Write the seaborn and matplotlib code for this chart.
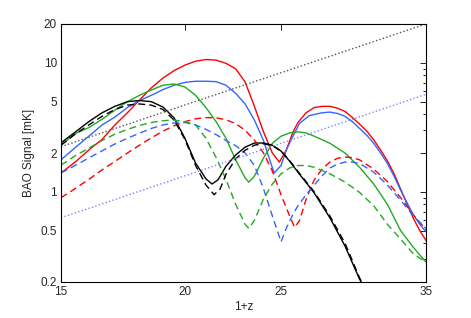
import numpy as np
import pandas as pd
import seaborn as sns
import matplotlib
matplotlib.use("Agg")
from matplotlib import pyplot as plt
from matplotlib.ticker import FixedLocator, LogLocator, NullFormatter, NullLocator

# 1+z sample points and BAO signal [mK]
red_z = [15, 15.5, 16, 16.5, 17, 17.5, 18, 18.5, 19, 19.5, 20, 20.5, 21, 21.5, 22, 22.5, 23, 23.5, 24, 24.5,
         24.9, 25.3, 25.7, 26, 26.5, 27, 27.5, 28, 28.5, 29, 29.5, 30, 30.5, 31, 31.5, 32, 32.5, 33, 33.5, 34, 34.5, 35]
red_solid = [1.40, 1.70, 2.11, 2.55, 3.3, 4.1, 5.15, 6.4, 7.6, 8.7, 9.6, 10.3, 10.6, 10.5, 9.9, 9.0, 7.1, 4.6, 2.92, 2.0,
             1.70, 2.1, 2.9, 3.45, 4.1, 4.5, 4.6, 4.6, 4.45, 4.2, 3.77, 3.35, 2.96, 2.53, 2.11, 1.74, 1.38, 1.05, 0.80, 0.62, 0.50, 0.42]

red_dash_z = [15, 15.5, 16, 16.5, 17, 17.5, 18, 18.5, 19, 19.5, 20, 20.5, 21, 21.5, 22, 22.5, 23, 23.5, 24, 24.5,
              25, 25.5, 25.8, 26.1, 26.5, 27, 27.5, 28, 28.5, 29, 29.5, 30, 31, 32, 33, 34, 35]
red_dash = [0.9, 1.06, 1.25, 1.48, 1.72, 2.0, 2.3, 2.62, 2.95, 3.25, 3.5, 3.68, 3.76, 3.75, 3.62, 3.38, 3.0, 2.52, 2.0, 1.45,
            0.95, 0.65, 0.53, 0.6, 0.88, 1.24, 1.5, 1.7, 1.82, 1.86, 1.84, 1.77, 1.5, 1.2, 0.9, 0.66, 0.51]

blue_z = [15, 15.5, 16, 16.5, 17, 17.5, 18, 18.5, 19, 19.5, 20, 20.5, 21, 21.5, 22, 22.5, 23, 23.5, 24, 24.3,
          24.6, 25, 25.3, 25.7, 26.1, 26.7, 27.5, 28, 28.5, 29, 29.5, 30, 30.5, 31, 31.5, 32, 32.5, 33, 33.5, 34, 34.5, 35]
blue_solid = [1.77, 2.2, 2.7, 3.3, 3.8, 4.5, 5.1, 5.6, 6.2, 6.7, 7.05, 7.2, 7.2, 7.15, 6.7, 5.8, 4.8, 3.6, 2.5, 1.86,
              1.4, 1.6, 2.1, 2.7, 3.4, 3.9, 4.1, 4.15, 4.05, 3.85, 3.5, 3.1, 2.75, 2.38, 2.0, 1.66, 1.32, 1.03, 0.82, 0.66, 0.56, 0.49]

blue_dash_z = [15, 15.5, 16, 16.5, 17, 17.5, 18, 18.5, 19, 19.5, 20, 20.5, 21, 21.5, 22, 22.5, 23, 23.5, 24, 24.5,
               25, 25.3, 25.7, 26, 26.5, 27, 27.5, 28, 28.5, 29, 29.5, 30, 31, 32, 33, 34, 35]
blue_dash = [1.4, 1.6, 1.83, 2.08, 2.35, 2.6, 2.85, 3.1, 3.3, 3.42, 3.45, 3.3, 3.05, 2.78, 2.5, 2.28, 2.0, 1.6, 1.06, 0.65,
             0.41, 0.52, 0.67, 0.78, 0.95, 1.13, 1.33, 1.53, 1.64, 1.7, 1.7, 1.66, 1.42, 1.13, 0.86, 0.65, 0.52]

green_z = [15, 15.5, 16, 16.5, 17, 17.5, 18, 18.5, 19, 19.5, 20, 20.5, 21, 21.5, 22, 22.5, 23, 23.2, 23.5, 24,
           24.5, 25, 25.5, 26, 26.5, 27, 28, 29, 30, 31, 32, 33, 34, 35]
green_solid = [2.3, 2.82, 3.15, 3.65, 4.3, 5.0, 5.6, 6.16, 6.7, 6.86, 6.5, 5.6, 4.5, 3.5, 2.6, 1.77, 1.28, 1.19, 1.32, 1.83,
               2.38, 2.7, 2.86, 2.92, 2.86, 2.7, 2.38, 2.0, 1.55, 1.15, 0.8, 0.5, 0.37, 0.285]

green_dash_z = [15, 15.5, 16, 16.5, 17, 17.5, 18, 18.5, 19, 19.5, 20, 20.5, 21, 21.5, 22, 22.5, 23, 23.2, 23.5, 24,
                24.5, 25, 25.5, 26, 26.5, 27, 28, 29, 30, 31, 32, 33, 34, 35]
green_dash = [1.61, 1.9, 2.18, 2.5, 2.8, 3.05, 3.27, 3.45, 3.56, 3.6, 3.5, 3.3, 2.6, 1.85, 1.25, 0.8, 0.56, 0.52, 0.6, 0.88,
              1.15, 1.38, 1.53, 1.6, 1.6, 1.55, 1.38, 1.19, 0.99, 0.78, 0.56, 0.43, 0.33, 0.285]

black_z = [15, 15.5, 16, 16.5, 17, 17.5, 18, 18.5, 19, 19.5, 20, 20.5, 21, 21.3, 21.6, 22, 22.5, 23, 23.5, 24,
           24.5, 25, 25.5, 26, 27, 28, 29, 30, 30.5]
black_solid = [2.4, 2.9, 3.5, 4.1, 4.6, 5.0, 5.1, 5.0, 4.55, 3.75, 2.6, 1.67, 1.26, 1.15, 1.24, 1.58, 1.93, 2.22, 2.39, 2.39,
               2.3, 2.07, 1.73, 1.42, 0.98, 0.63, 0.38, 0.21, 0.17]

black_dash_z = [15, 15.5, 16, 16.5, 17, 17.5, 18, 18.5, 19, 19.5, 20, 20.5, 21, 21.4, 21.7, 22, 22.5, 23, 23.5, 24,
                24.5, 25, 25.5, 26, 27, 28, 29, 30, 30.5]
black_dash = [2.3, 2.8, 3.3, 3.85, 4.35, 4.7, 4.8, 4.7, 4.35, 3.6, 2.55, 1.6, 1.13, 0.95, 1.05, 1.37, 1.8, 2.1, 2.3, 2.36,
              2.28, 2.07, 1.75, 1.44, 1.0, 0.65, 0.4, 0.215, 0.17]

dot_z = [15, 35]
black_dot = [2.24, 20.0]
blue_dot = [0.63, 5.7]

RED = "#ff0000"
BLUE = "#3366ff"
GREEN = "#22aa22"
DASH = (0, (5, 3))
DOT = (0, (1, 1.6))

sns.set_style("white")
plt.rcParams["font.family"] = ["Liberation Sans", "DejaVu Sans"]

fig = plt.figure(figsize=(4.71, 3.18), dpi=100)
ax = fig.add_axes([61 / 471, 1 - 282 / 318, 365 / 471, 258 / 318])

curves = [
    (red_z, red_solid, RED, "-"),
    (blue_z, blue_solid, BLUE, "-"),
    (green_z, green_solid, GREEN, "-"),
    (black_z, black_solid, "black", "-"),
    (red_dash_z, red_dash, RED, DASH),
    (blue_dash_z, blue_dash, BLUE, DASH),
    (green_dash_z, green_dash, GREEN, DASH),
    (black_dash_z, black_dash, "black", DASH),
    (dot_z, black_dot, "#555555", DOT),
    (dot_z, blue_dot, "#7788ff", DOT),
]
for zs, vals, col, ls in curves:
    df = pd.DataFrame({"z": zs, "signal": vals})
    sns.lineplot(data=df, x="z", y="signal", color=col, linestyle=ls,
                 linewidth=1.0, estimator=None, sort=False, ax=ax)

ax.set_xscale("log")
ax.set_yscale("log")
ax.set_xlim(15, 35)
ax.set_ylim(0.2, 20)

ax.xaxis.set_major_locator(FixedLocator([15, 20, 25, 35]))
ax.xaxis.set_minor_locator(NullLocator())
ax.set_xticklabels(["15", "20", "25", "35"])
ax.xaxis.set_minor_formatter(NullFormatter())
ax.yaxis.set_major_locator(FixedLocator([0.2, 0.5, 1, 2, 5, 10, 20]))
ax.yaxis.set_minor_locator(LogLocator(base=10, subs=np.arange(2, 10)))
ax.yaxis.set_minor_formatter(NullFormatter())
ax.set_yticklabels(["0.2", "0.5", "1", "2", "5", "10", "20"])

ax.tick_params(which="both", direction="in", top=True, right=True, labelsize=8.5, color="black", pad=3)
ax.tick_params(which="major", length=4, width=0.6)
ax.tick_params(which="minor", length=2.5, width=0.6)
for s in ax.spines.values():
    s.set_color("black")
    s.set_linewidth(0.8)

ax.set_xlabel("1+z", fontsize=8.5, labelpad=2)
ax.set_ylabel("BAO Signal [mK]", fontsize=8.5, labelpad=4)

fig.savefig("out.png", dpi=100)
